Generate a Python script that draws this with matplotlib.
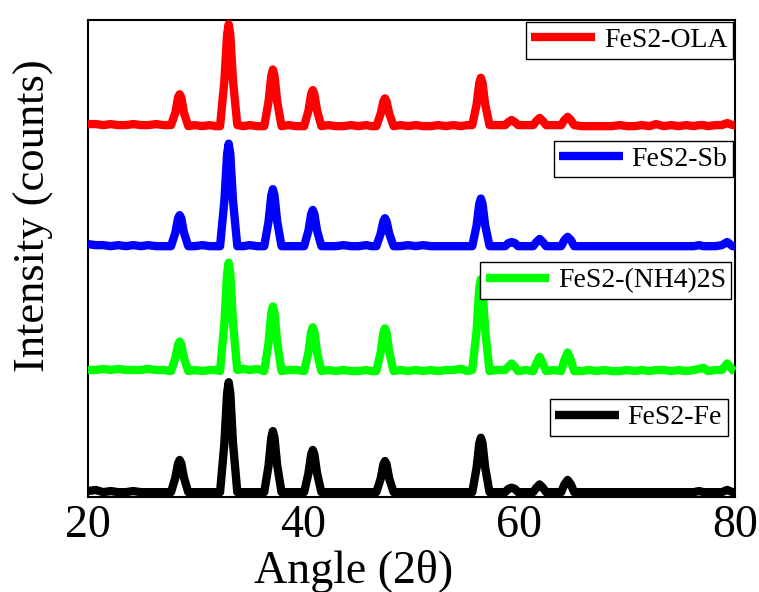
import matplotlib
matplotlib.use("Agg")
import matplotlib.pyplot as plt

plt.rcParams['font.family'] = ['Liberation Serif', 'DejaVu Serif']

# shared 2-theta grid (deg)
angle = [20.0, 20.7, 21.4, 22.1, 22.8, 23.5, 24.2, 24.9, 25.6, 26.3, 27.0,
         27.7, 28.1, 28.35, 28.5, 28.65, 28.9, 29.3,
         29.9, 30.6, 31.3, 31.8,
         32.25, 32.65, 32.9, 33.05, 33.2, 33.45, 33.85,
         34.4, 35.0, 35.7,
         36.35, 36.75, 37.0, 37.15, 37.3, 37.55, 37.95,
         38.6, 39.3,
         40.05, 40.45, 40.7, 40.85, 41.0, 41.25, 41.65,
         42.3, 43.0, 43.7, 44.4, 45.1, 45.8, 46.3,
         46.75, 47.15, 47.4, 47.55, 47.7, 47.95, 48.35,
         49.0, 49.7, 50.4, 51.1, 51.8, 52.5, 53.2, 53.9, 54.6, 55.2,
         55.65, 56.05, 56.3, 56.45, 56.6, 56.85, 57.25,
         57.9,
         58.7, 59.0, 59.3, 59.6, 59.9,
         60.6,
         61.3, 61.6, 61.9, 62.2, 62.5,
         63.2,
         63.9, 64.2, 64.5, 64.8, 65.1,
         65.8, 66.5, 67.2, 67.9, 68.6, 69.3, 70.0, 70.7, 71.4, 72.1, 72.7, 73.4,
         74.1, 74.8, 75.5, 76.2, 76.7, 77.1, 77.5, 78.2, 78.8, 79.3, 79.8, 80.0]

ola = [0.03, 0.03, 0.02, 0.03, 0.02, 0.02, 0.03, 0.02, 0.02, 0.03, 0.02,
       0.02, 0.14, 0.29, 0.32, 0.29, 0.14, 0.01,
       0.02, 0.01, 0.02, 0.01,
       0.01, 0.45, 0.90, 1.00, 0.90, 0.45, 0.02,
       0.01, 0.02, 0.01,
       0.01, 0.25, 0.50, 0.56, 0.50, 0.25, 0.01,
       0.02, 0.01,
       0.01, 0.16, 0.32, 0.36, 0.32, 0.16, 0.01,
       0.02, 0.01, 0.01, 0.02, 0.01, 0.02, 0.01,
       0.01, 0.13, 0.25, 0.28, 0.25, 0.13, 0.01,
       0.02, 0.01, 0.02, 0.01, 0.01, 0.02, 0.01, 0.02, 0.01, 0.02,
       0.02, 0.22, 0.43, 0.48, 0.43, 0.22, 0.02,
       0.02,
       0.02, 0.05, 0.07, 0.05, 0.02,
       0.02,
       0.02, 0.06, 0.09, 0.06, 0.02,
       0.02,
       0.02, 0.07, 0.10, 0.07, 0.02,
       0.01, 0.01, 0.01, 0.01, 0.01, 0.02, 0.01, 0.01, 0.02, 0.01, 0.03, 0.01,
       0.02, 0.01, 0.02, 0.01, 0.02, 0.02, 0.01, 0.02, 0.02, 0.04, 0.02, 0.02]

sb = [0.03, 0.02, 0.02, 0.01, 0.02, 0.01, 0.02, 0.01, 0.02, 0.01, 0.01,
      0.01, 0.14, 0.28, 0.31, 0.28, 0.14, 0.01,
      0.01, 0.02, 0.01, 0.01,
      0.01, 0.45, 0.90, 1.00, 0.90, 0.45, 0.01,
      0.01, 0.02, 0.01,
      0.01, 0.25, 0.50, 0.56, 0.50, 0.25, 0.01,
      0.01, 0.01,
      0.01, 0.16, 0.32, 0.36, 0.32, 0.16, 0.01,
      0.01, 0.01, 0.02, 0.01, 0.01, 0.02, 0.01,
      0.01, 0.13, 0.25, 0.28, 0.25, 0.13, 0.01,
      0.01, 0.02, 0.01, 0.02, 0.01, 0.01, 0.01, 0.01, 0.01, 0.01,
      0.01, 0.21, 0.42, 0.47, 0.42, 0.21, 0.01,
      0.01,
      0.01, 0.04, 0.05, 0.04, 0.01,
      0.01,
      0.01, 0.05, 0.08, 0.05, 0.01,
      0.01,
      0.01, 0.07, 0.10, 0.07, 0.01,
      0.01, 0.01, 0.01, 0.01, 0.01, 0.01, 0.01, 0.01, 0.01, 0.01, 0.01, 0.01,
      0.01, 0.01, 0.01, 0.01, 0.02, 0.01, 0.01, 0.01, 0.02, 0.05, 0.01, 0.01]

nh4 = [0.02, 0.02, 0.03, 0.02, 0.03, 0.02, 0.02, 0.02, 0.03, 0.02, 0.02,
       0.01, 0.13, 0.25, 0.28, 0.25, 0.13, 0.01,
       0.02, 0.01, 0.02, 0.02,
       0.01, 0.45, 0.90, 1.00, 0.90, 0.45, 0.02,
       0.03, 0.02, 0.03,
       0.01, 0.27, 0.54, 0.60, 0.54, 0.27, 0.01,
       0.02, 0.02,
       0.01, 0.18, 0.37, 0.41, 0.37, 0.18, 0.01,
       0.02, 0.01, 0.02, 0.01, 0.01, 0.02, 0.01,
       0.01, 0.18, 0.36, 0.40, 0.36, 0.18, 0.01,
       0.02, 0.01, 0.02, 0.01, 0.02, 0.01, 0.02, 0.02, 0.03, 0.01,
       0.02, 0.38, 0.77, 0.85, 0.77, 0.38, 0.01,
       0.02,
       0.02, 0.05, 0.08, 0.05, 0.01,
       0.02,
       0.01, 0.08, 0.14, 0.08, 0.01,
       0.02,
       0.01, 0.11, 0.18, 0.11, 0.01,
       0.01, 0.02, 0.01, 0.02, 0.01, 0.01, 0.02, 0.01, 0.02, 0.01, 0.02, 0.02,
       0.01, 0.02, 0.01, 0.02, 0.03, 0.04, 0.01, 0.02, 0.02, 0.08, 0.02, 0.01]

fe = [0.02, 0.03, 0.01, 0.02, 0.01, 0.01, 0.02, 0.01, 0.01, 0.01, 0.01,
      0.01, 0.14, 0.27, 0.30, 0.27, 0.14, 0.01,
      0.01, 0.01, 0.01, 0.01,
      0.01, 0.45, 0.90, 1.00, 0.90, 0.45, 0.01,
      0.01, 0.01, 0.01,
      0.01, 0.25, 0.50, 0.56, 0.50, 0.25, 0.01,
      0.01, 0.01,
      0.01, 0.18, 0.35, 0.39, 0.35, 0.18, 0.01,
      0.01, 0.01, 0.01, 0.01, 0.01, 0.01, 0.01,
      0.01, 0.13, 0.26, 0.29, 0.26, 0.13, 0.01,
      0.01, 0.01, 0.01, 0.01, 0.01, 0.01, 0.01, 0.01, 0.01, 0.01,
      0.01, 0.23, 0.45, 0.50, 0.45, 0.23, 0.01,
      0.01,
      0.01, 0.04, 0.05, 0.04, 0.01,
      0.01,
      0.01, 0.05, 0.08, 0.05, 0.01,
      0.01,
      0.01, 0.08, 0.12, 0.08, 0.01,
      0.01, 0.01, 0.01, 0.01, 0.01, 0.01, 0.01, 0.01, 0.01, 0.01, 0.01, 0.01,
      0.01, 0.01, 0.01, 0.01, 0.02, 0.01, 0.01, 0.01, 0.01, 0.03, 0.01, 0.01]

series = [ola, sb, nh4, fe]
labels = ["FeS2-OLA", "FeS2-Sb", "FeS2-(NH4)2S", "FeS2-Fe"]
colors = ["#ff0000", "#0000ff", "#00ff00", "#000000"]
ylims = [(-0.119, 1.04), (-0.111, 1.041), (-0.053, 1.036), (-0.036, 1.038)]
leg_anchor = [(0.997, 0.983), (0.997, 0.99), (0.995, 0.97), (0.989, 0.82)]

fig, axes = plt.subplots(4, 1, sharex=True, figsize=(7.59, 5.92), dpi=100)
fig.subplots_adjust(left=0.116, right=0.968, top=0.966, bottom=0.16, hspace=0)

for i, ax in enumerate(axes):
    ax.plot(angle, series[i], color=colors[i], lw=6, label=labels[i],
            solid_joinstyle='round', solid_capstyle='butt', clip_on=False, zorder=3)
    ax.set_ylim(*ylims[i])
    ax.set_xlim(20, 80)
    ax.set_yticks([])
    ax.tick_params(axis='x', length=0)
    for s in ax.spines.values():
        s.set_linewidth(1.5)
    if i > 0:
        ax.spines['top'].set_visible(False)
    if i < 3:
        ax.spines['bottom'].set_visible(False)
    leg = ax.legend(loc='upper right', bbox_to_anchor=leg_anchor[i], borderaxespad=0,
                    fontsize=20, handlelength=2.3, handletextpad=0.3, borderpad=0.2,
                    fancybox=False, framealpha=1, edgecolor='black')
    leg.get_frame().set_linewidth(1.0)
    leg.set_zorder(5)

axes[-1].set_xticks([20, 40, 60, 80])
axes[-1].tick_params(axis='x', labelsize=33, pad=5)
axes[-1].set_xlabel("Angle (2θ)", fontsize=33)
axes[-1].xaxis.set_label_coords(0.41, -0.438)
fig.text(0.045, 0.635, "Intensity (counts)", rotation=90, fontsize=32,
         ha='center', va='center')

fig.savefig("out.png", dpi=100)
